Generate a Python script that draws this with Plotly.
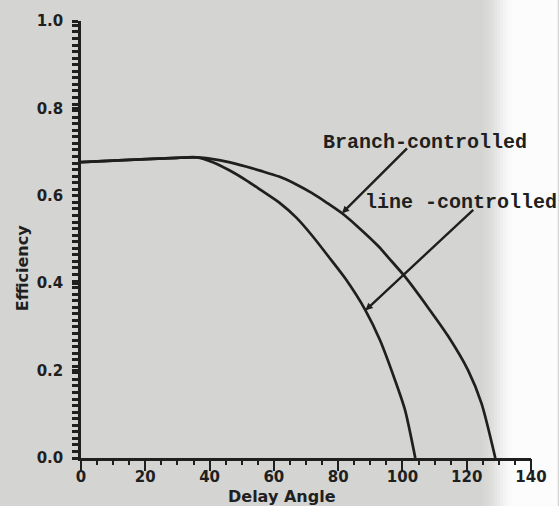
import plotly.graph_objects as go

# Efficiency vs. delay angle for the two converter control schemes
angle_line = [0, 15, 30, 36, 41, 46, 51.3, 56, 61.6, 67, 72, 77, 82.3, 88.5, 93,
              97.7, 100.8, 104.0]
eff_line = [0.677, 0.682, 0.687, 0.688, 0.677, 0.659, 0.636, 0.613, 0.585, 0.550,
            0.508, 0.461, 0.410, 0.338, 0.270, 0.178, 0.110, 0.0]

angle_branch = [0, 15, 30, 36, 41, 46, 51.3, 56, 61.6, 67, 71.9, 76.5, 81.2, 86,
                92.6, 95.7, 100.8, 108, 114.2, 120.4, 124.6, 128.9]
eff_branch = [0.677, 0.682, 0.687, 0.688, 0.684, 0.677, 0.667, 0.657, 0.644, 0.626,
              0.606, 0.584, 0.560, 0.530, 0.484, 0.458, 0.415, 0.344, 0.279, 0.201,
              0.125, 0.0]

x_range = [0, 140]
y_range = [0, 1]
x_tick_step = 20
x_minor_step = 5
y_tick_step = 0.2
y_minor_step = 0.015

# label text and leader lines: (label anchor, leader tail, leader head on curve)
label_branch = "Branch-controlled"
label_line = "line -controlled"
branch_label_pos = (74.6, 0.723)
line_label_pos = (87.6, 0.584)
branch_leader = ((101.9, 0.712), (81.2, 0.560))
line_leader = ((122.5, 0.571), (88.5, 0.338))

INK = "#1f1f1f"
BG = "#d4d4d2"

fig = go.Figure()
for xs, ys in ((angle_line, eff_line), (angle_branch, eff_branch)):
    fig.add_trace(go.Scatter(x=xs, y=ys, mode="lines",
                             line=dict(color=INK, width=2.7, shape="spline",
                                       smoothing=0.7),
                             showlegend=False, hoverinfo="skip"))
# empty trace that binds the fine-tick overlay axes
fig.add_trace(go.Scatter(x=[None], y=[None], xaxis="x2", yaxis="y2",
                         showlegend=False, hoverinfo="skip"))

# lighter strip along the right edge of the sheet
strip_colors = ["#d6d6d4", "#d9d9d8", "#dcdcdb", "#e0e0df", "#e5e5e4", "#eaeaea",
                "#efefef", "#f3f3f3", "#f7f7f7", "#fafafa", "#fcfcfc"]
x0_px, step_px = 484, 3
shapes = []
for i, c in enumerate(strip_colors):
    a = x0_px + i * step_px
    b = 559 if i == len(strip_colors) - 1 else a + step_px
    shapes.append(dict(type="rect", xref="paper", yref="paper",
                       x0=(a - 81) / 452, x1=(b - 81) / 452 + 0.002,
                       y0=-0.12, y1=1.06, fillcolor=c, line=dict(width=0), layer="below"))

label_font = dict(family="Liberation Mono, DejaVu Sans Mono, monospace", size=20,
                  color=INK, weight="bold")
annotations = [
    dict(x=branch_label_pos[0], y=branch_label_pos[1], xref="x", yref="y",
         text=label_branch, showarrow=False, xanchor="left", yanchor="middle",
         font=label_font),
    dict(x=line_label_pos[0], y=line_label_pos[1], xref="x", yref="y",
         text=label_line, showarrow=False, xanchor="left", yanchor="middle",
         font=label_font),
]
for tail, head in (branch_leader, line_leader):
    annotations.append(dict(x=head[0], y=head[1], ax=tail[0], ay=tail[1],
                            xref="x", yref="y", axref="x", ayref="y", text="",
                            showarrow=True, arrowhead=2, arrowsize=0.6,
                            arrowwidth=2.4, arrowcolor=INK, standoff=0))

title_font = dict(family="DejaVu Sans, sans-serif", size=16, color=INK, weight="bold")
annotations.append(dict(x=(283 - 81) / 452, y=(458 - 496) / 437, xref="paper",
                        yref="paper", text="Delay Angle", showarrow=False,
                        xanchor="center", yanchor="middle", font=title_font))
annotations.append(dict(x=(22 - 81) / 452, y=(458 - 268) / 437, xref="paper",
                        yref="paper", text="Efficiency", showarrow=False,
                        textangle=-90, xanchor="center", yanchor="middle",
                        font=title_font))

tick_font = dict(family="DejaVu Sans, sans-serif", size=15, color=INK, weight="bold")

fine_y = dict(tickmode="linear", tick0=0, dtick=y_minor_step, ticks="outside",
              ticklen=6, tickwidth=2.5, tickcolor=INK)

fig.update_layout(
    width=559, height=506, autosize=False,
    margin=dict(l=81, r=26, t=21, b=48, pad=0),
    paper_bgcolor=BG, plot_bgcolor="rgba(0,0,0,0)",
    shapes=shapes, annotations=annotations,
    xaxis=dict(range=x_range, tickmode="linear", tick0=0, dtick=x_tick_step,
               ticks="outside", ticklen=10, tickwidth=2, tickcolor=INK,
               showline=True, linewidth=2.5, linecolor=INK, showgrid=False,
               zeroline=False, tickfont=tick_font, ticklabelstandoff=-7),
    yaxis=dict(range=y_range, tickmode="linear", tick0=0, dtick=y_tick_step,
               tickformat=".1f", ticks="outside", ticklen=6, tickwidth=2.5,
               tickcolor=INK, showline=True, linewidth=2.5, linecolor=INK,
               showgrid=False, zeroline=False, tickfont=tick_font,
               ticklabelstandoff=6, minor=dict(showgrid=False, **fine_y)),
    # fine tick marks along both axes
    xaxis2=dict(range=x_range, overlaying="x", anchor="y2", side="bottom",
                tickmode="linear", tick0=0, dtick=x_minor_step, ticks="outside",
                ticklen=6, tickwidth=2, tickcolor=INK, showticklabels=False,
                showline=False, showgrid=False, zeroline=False),
    yaxis2=dict(range=y_range, overlaying="y", anchor="x2", side="left",
                showticklabels=False, showline=False, showgrid=False,
                zeroline=False, **fine_y),
)

fig.write_html("out.html")
